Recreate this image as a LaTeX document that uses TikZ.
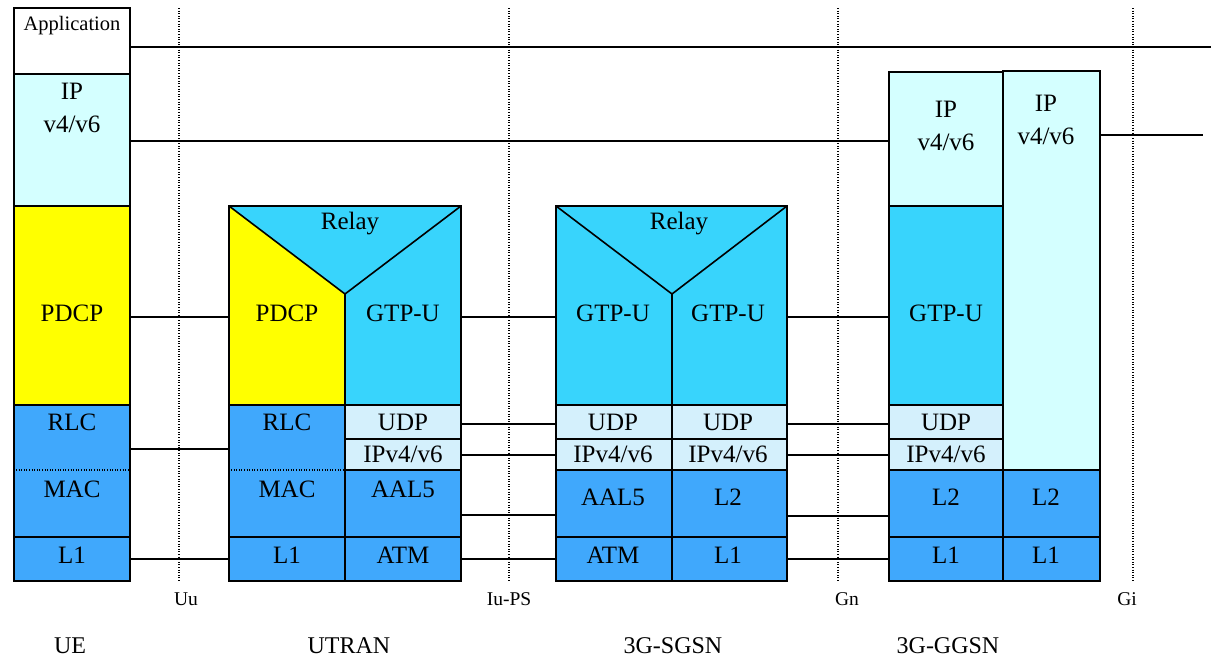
\documentclass[tikz,border=0pt]{standalone}
\usepackage{fontspec}
\setmainfont{Liberation Serif}
\definecolor{ylw}{HTML}{FFFF00}
\definecolor{ipc}{HTML}{D4FFFF}
\definecolor{gtpc}{HTML}{38D4FC}
\definecolor{blu}{HTML}{40A8FC}
\definecolor{udpc}{HTML}{D4F0FC}
\tikzset{
  blk/.style={draw=black, line width=1.6pt, inner sep=0pt, outer sep=0pt, anchor=north west},
  lbl/.style={font=\fontsize{25}{33}\selectfont, inner sep=0pt, align=center},
  small/.style={font=\fontsize{20.5}{22}\selectfont, inner sep=0pt},
  tiny/.style={font=\fontsize{19.5}{22}\selectfont, inner sep=0pt},
  big/.style={font=\fontsize{24}{27}\selectfont, inner sep=0pt},
  link/.style={line width=1.3pt},
  sepline/.style={line width=1.1pt, dash pattern=on 1pt off 1.6pt},
  edge/.style={line width=1.6pt}
}
\newcommand\blk[6]{\node[blk, fill=#2, minimum width=#5pt, minimum height=#6pt] (#1) at (#3,#4) {};}
\newcommand\tx[4]{\node[lbl] (#1) at (#2,#3) {#4};}
\begin{document}
\begin{tikzpicture}[x=1pt,y=-1pt]
\useasboundingbox (0,0) rectangle (1211,659);

% interface separators
\coordinate (uut) at (179,8);   \coordinate (uub) at (179,581);
\coordinate (iut) at (509,8);   \coordinate (iub) at (509,581);
\coordinate (gnt) at (838,8);   \coordinate (gnb) at (838,581);
\coordinate (git) at (1133,8);  \coordinate (gib) at (1133,581);
\draw[sepline] (uut) -- (uub);
\draw[sepline] (iut) -- (iub);
\draw[sepline] (gnt) -- (gnb);
\draw[sepline] (git) -- (gib);

% ---------- UE ----------
\blk{app}{white}{14}{8}{116}{66}
\blk{ueip}{ipc}{14}{74}{116}{132}
\blk{uepdcp}{ylw}{14}{206}{116}{199}
\blk{uerlc}{blu}{14}{405}{116}{132}
\blk{uel1}{blu}{14}{537}{116}{44}
\draw[sepline] (16,470) -- (128,470);
\node[small] (tapp) at (72,26) {Application};
\tx{tueip}{72}{108}{IP\\v4/v6}
\tx{tuepdcp}{72}{313}{PDCP}
\tx{tuerlc}{72}{422}{RLC}
\tx{tuemac}{72}{489}{MAC}
\tx{tuel1}{72}{555}{L1}

% ---------- UTRAN ----------
\blk{utop}{gtpc}{229}{206}{232}{199}
\coordinate (uv) at (345,294);
\coordinate (uvb) at (345,405);
\fill[ylw] (utop.north west) -- (uv) -- (uvb) -- (utop.south west) -- cycle;
\draw[edge] (utop.north west) rectangle (utop.south east);
\draw[edge] (utop.north west) -- (uv) -- (utop.north east);
\draw[edge] (uv) -- (uvb);
\blk{urlc}{blu}{229}{405}{116}{132}
\blk{uudp}{udpc}{345}{405}{116}{34}
\blk{uip}{udpc}{345}{439}{116}{31}
\blk{uaal}{blu}{345}{470}{116}{67}
\blk{ul1}{blu}{229}{537}{116}{44}
\blk{uatm}{blu}{345}{537}{116}{44}
\draw[sepline] (231,470) -- (343,470);
\tx{turelay}{350}{224}{Relay}
\tx{tupdcp}{287}{313}{PDCP}
\tx{tugtp}{403}{313}{GTP-U}
\tx{turlc}{287}{422}{RLC}
\tx{tuudp}{403}{422}{UDP}
\tx{tuip}{403}{454}{IPv4/v6}
\tx{tumac}{287}{489}{MAC}
\tx{tuaal}{403}{489}{AAL5}
\tx{tul1}{287}{555}{L1}
\tx{tuatm}{403}{555}{ATM}

% ---------- 3G-SGSN ----------
\blk{stop}{gtpc}{556}{206}{231}{199}
\coordinate (sv) at (672,294);
\coordinate (svb) at (672,405);
\draw[edge] (stop.north west) -- (sv) -- (stop.north east);
\draw[edge] (sv) -- (svb);
\blk{sudpa}{udpc}{556}{405}{116}{34}
\blk{sudpb}{udpc}{672}{405}{115}{34}
\blk{sipa}{udpc}{556}{439}{116}{31}
\blk{sipb}{udpc}{672}{439}{115}{31}
\blk{saal}{blu}{556}{470}{116}{67}
\blk{sl2}{blu}{672}{470}{115}{67}
\blk{satm}{blu}{556}{537}{116}{44}
\blk{sl1}{blu}{672}{537}{115}{44}
\tx{tsrelay}{679}{224}{Relay}
\tx{tsgtpa}{613}{313}{GTP-U}
\tx{tsgtpb}{728}{313}{GTP-U}
\tx{tsudpa}{613}{422}{UDP}
\tx{tsudpb}{728}{422}{UDP}
\tx{tsipa}{613}{454}{IPv4/v6}
\tx{tsipb}{728}{454}{IPv4/v6}
\tx{tsaal}{613}{497}{AAL5}
\tx{tsl2}{728}{497}{L2}
\tx{tsatm}{613}{555}{ATM}
\tx{tsl1}{728}{555}{L1}

% ---------- 3G-GGSN ----------
\blk{grip}{ipc}{1003}{71}{97}{399}
\blk{grl2}{blu}{1003}{470}{97}{67}
\blk{grl1}{blu}{1003}{537}{97}{44}
\blk{glip}{ipc}{889}{72}{114}{134}
\blk{glgtp}{gtpc}{889}{206}{114}{199}
\blk{gludp}{udpc}{889}{405}{114}{34}
\blk{glipb}{udpc}{889}{439}{114}{31}
\blk{gll2}{blu}{889}{470}{114}{67}
\blk{gll1}{blu}{889}{537}{114}{44}
\tx{tglip}{946}{126}{IP\\v4/v6}
\tx{tgrip}{1046}{120}{IP\\v4/v6}
\tx{tglgtp}{946}{313}{GTP-U}
\tx{tgludp}{946}{422}{UDP}
\tx{tglipb}{946}{454}{IPv4/v6}
\tx{tgll2}{946}{497}{L2}
\tx{tgrl2}{1046}{497}{L2}
\tx{tgll1}{946}{555}{L1}
\tx{tgrl1}{1046}{555}{L1}

% ---------- peer links ----------
\coordinate (append) at (1211,47);
\coordinate (giend) at (1203,135);
\draw[link] (app.east |- 0,47) -- (append);
\draw[link] (ueip.east |- 0,141) -- (glip.west |- 0,141);
\draw[link] (grip.east |- 0,135) -- (giend);
\draw[link] (uepdcp.east |- 0,317) -- (utop.west |- 0,317);
\draw[link] (uerlc.east |- 0,449) -- (urlc.west |- 0,449);
\draw[link] (uel1.east |- 0,559) -- (ul1.west |- 0,559);
\draw[link] (utop.east |- 0,317) -- (stop.west |- 0,317);
\draw[link] (uudp.east |- 0,424) -- (sudpa.west |- 0,424);
\draw[link] (uip.east |- 0,455) -- (sipa.west |- 0,455);
\draw[link] (uaal.east |- 0,515) -- (saal.west |- 0,515);
\draw[link] (uatm.east |- 0,559) -- (satm.west |- 0,559);
\draw[link] (stop.east |- 0,317) -- (glgtp.west |- 0,317);
\draw[link] (sudpb.east |- 0,424) -- (gludp.west |- 0,424);
\draw[link] (sipb.east |- 0,455) -- (glipb.west |- 0,455);
\draw[link] (sl2.east |- 0,516) -- (gll2.west |- 0,516);
\draw[link] (sl1.east |- 0,559) -- (gll1.west |- 0,559);

% ---------- interface and node names ----------
\node[tiny] (luu) at (186,599) {Uu};
\node[tiny] (liu) at (509,599) {Iu-PS};
\node[tiny] (lgn) at (847,599) {Gn};
\node[tiny] (lgi) at (1127,599) {Gi};
\node[big] (nue) at (70,646) {UE};
\node[big] (nut) at (349,646) {UTRAN};
\node[big] (nsg) at (673,646) {3G-SGSN};
\node[big] (ngg) at (948,646) {3G-GGSN};
\end{tikzpicture}
\end{document}
